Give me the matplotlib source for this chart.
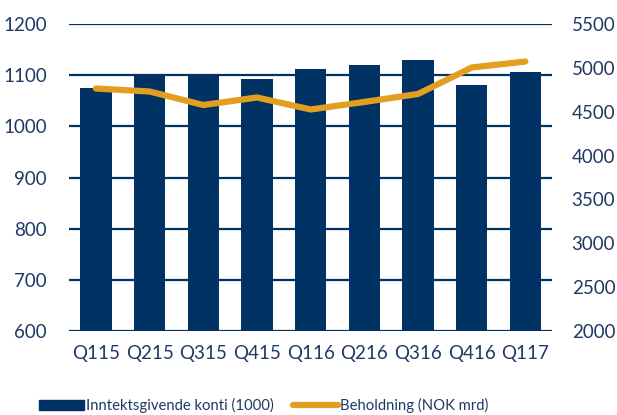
import numpy as np
import matplotlib.pyplot as plt
from matplotlib.patches import Patch
from matplotlib.lines import Line2D

plt.rcParams['font.family'] = ['Lato', 'DejaVu Sans']

quarters = ['Q115', 'Q215', 'Q315', 'Q415', 'Q116', 'Q216', 'Q316', 'Q416', 'Q117']
konti = [1076, 1098, 1101, 1093, 1113, 1120, 1130, 1081, 1106]
beholdning = [4765, 4731, 4577, 4663, 4526, 4612, 4703, 5005, 5073]

navy = '#003263'
gold = '#E29F1F'
txt = '#1F3864'

fig = plt.figure(figsize=(6.17, 4.15), dpi=100)
ax = fig.add_axes([0.112, 0.2024, 0.783, 0.7396])
x = np.arange(len(quarters))
ax.bar(x, konti, width=0.58, color=navy, zorder=3)
ax.set_ylim(600, 1200)
ax.set_xlim(-0.5, len(quarters) - 0.5)
ax.set_yticks(range(600, 1201, 100))
ax.yaxis.grid(True, color=navy, lw=1.6, zorder=0)
ax.set_axisbelow(True)
for s in ax.spines.values():
    s.set_visible(False)
ax.set_xticks(x)
ax.set_xticklabels(quarters)
ax.tick_params(length=0, labelsize=13.5, colors=txt, pad=16)
ax.tick_params(axis='x', pad=10)

ax2 = ax.twinx()
ax2.plot(x, beholdning, color=gold, lw=4.5, solid_capstyle='round', solid_joinstyle='round', zorder=4)
ax2.set_ylim(2000, 5500)
ax2.set_yticks(range(2000, 5501, 500))
for s in ax2.spines.values():
    s.set_visible(False)
ax2.tick_params(length=0, labelsize=13.5, colors=txt, pad=14)

handles = [Patch(color=navy), Line2D([], [], color=gold, lw=4.5, solid_capstyle='round')]
labels = ['Inntektsgivende konti (1000)', 'Beholdning (NOK mrd)']
fig.legend(handles, labels, loc='lower left', bbox_to_anchor=(0.042, -0.028), ncol=2,
           frameon=False, fontsize=10.7, labelcolor=txt, handlelength=3.0,
           handletextpad=0.15, columnspacing=1.3)

fig.savefig('out.png', dpi=100)
